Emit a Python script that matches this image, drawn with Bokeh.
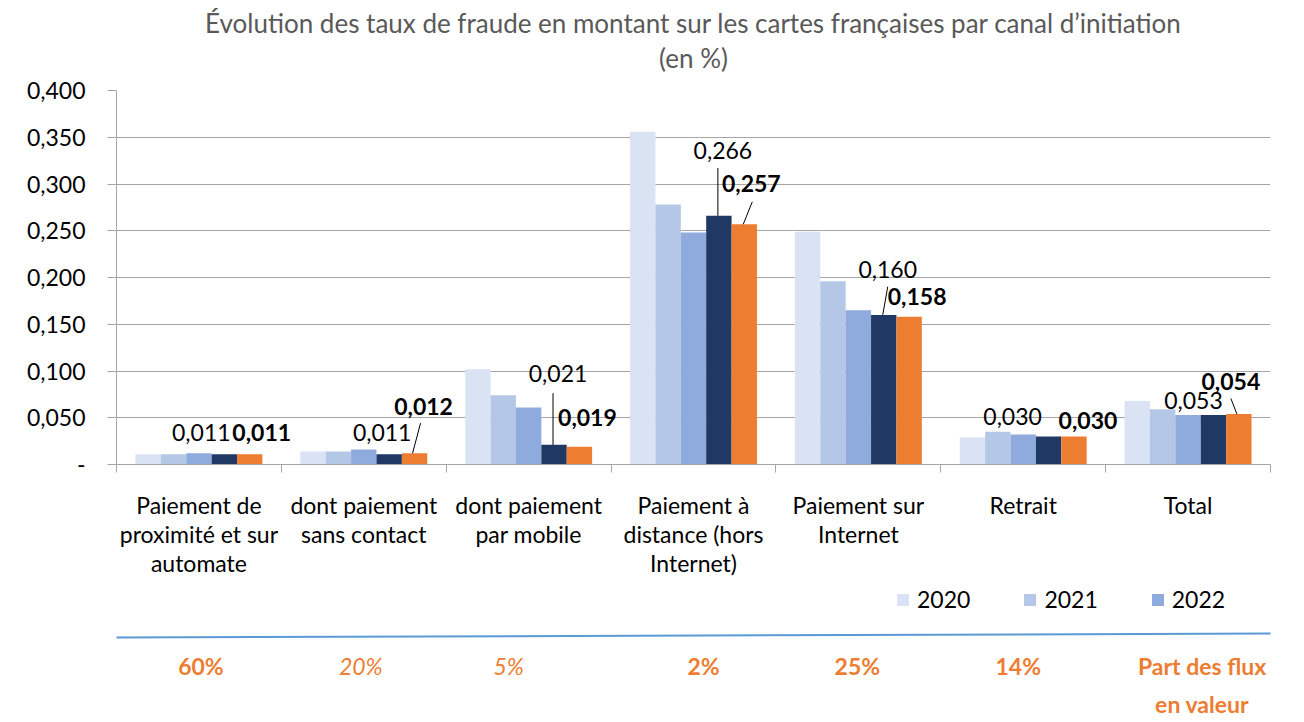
import numpy as np
from bokeh.plotting import figure
from bokeh.models import (Range1d, FixedTicker, ColumnDataSource, Legend, LegendItem)
from bokeh.layouts import column
from bokeh.core.properties import value
from bokeh.embed import file_html
from bokeh.resources import INLINE

# ---------------- data ----------------
categories = ["Paiement de\nproximité et sur\nautomate", "dont paiement\nsans contact",
              "dont paiement\npar mobile", "Paiement à\ndistance (hors\nInternet)",
              "Paiement sur\nInternet", "Retrait", "Total"]
legend_years = ["2020", "2021", "2022"]
v2020 = [0.011, 0.014, 0.102, 0.356, 0.249, 0.029, 0.068]
v2021 = [0.011, 0.014, 0.074, 0.278, 0.196, 0.035, 0.059]
v2022 = [0.012, 0.016, 0.061, 0.248, 0.165, 0.032, 0.053]
v_serie4 = [0.011, 0.011, 0.021, 0.266, 0.160, 0.030, 0.053]
v_serie5 = [0.011, 0.012, 0.019, 0.257, 0.158, 0.030, 0.054]
shares = ["60%", "20%", "5%", "2%", "25%", "14%", "Part des flux\nen valeur"]
y_ticks = [0.0, 0.05, 0.1, 0.15, 0.2, 0.25, 0.3, 0.35, 0.4]
y_tick_labels = ["-", "0,050", "0,100", "0,150", "0,200", "0,250", "0,300", "0,350", "0,400"]
title_lines = ["Évolution des taux de fraude en montant sur les cartes françaises par canal d’initiation",
               "(en %)"]

# ---------------- layout / style ----------------
FONT = "Lato"
FS = "23px"
TITLE_FS = "26px"
W = 1300
H0, H1, H2 = 75, 505, 138          # title strip, chart, bottom strip
LEFT, RIGHT = 116, 30
TOP1, FRAME_H = 90 - H0, 384
BOTTOM1 = H1 - TOP1 - FRAME_H
PX_X = (W - LEFT - RIGHT) / 7.0
PX_Y = FRAME_H / 0.4
colors = ["#DAE3F3", "#B4C7E7", "#8FAADC", "#203864", "#ED7D31"]
bar_w = 0.154
offsets = [-2 * bar_w, -bar_w, 0.0, bar_w, 2 * bar_w]
ncat = len(categories)
centers = np.arange(ncat) + 0.5

# label offsets in px (dx right, dy down) from bar top-centre
navy_dx = [-23, -7, 4, 4, 4, -36, -20]
navy_dy = [-22, -22, -73, -67, -47, -20, -15]
orange_dx = [12, 9, 8, 7, 8, 14, -8]
orange_dy = [-22, -48, -30, -42, -21, -16, -33]
# leader lines: (series, group, dx0, dy0, dx1, dy1) in px
leaders = [(4, 1, -2, 0, 6, -31), (3, 2, -1, 0, -1, -53), (3, 3, -1, 0, -1, -49),
           (4, 3, -1, 0, 8, -23), (3, 4, -1, 0, 4, -29), (4, 6, -2, 0, -8, -16)]

# ---------------- title strip ----------------
p0 = figure(width=W, height=H0, output_backend="svg", toolbar_location=None,
            x_range=Range1d(0, ncat), y_range=Range1d(0, H0),
            x_axis_type=None, y_axis_type=None, min_border_left=LEFT, min_border_right=RIGHT,
            min_border_top=0, min_border_bottom=0, outline_line_color=None)
p0.text(x=[ncat / 2] * 2, y=[H0 - 22, H0 - 57], text=title_lines, text_align="center",
        text_baseline="middle", text_font=value(FONT), text_font_size=TITLE_FS,
        text_color="#595959")

# ---------------- chart ----------------
p = figure(width=W, height=H1, output_backend="svg", toolbar_location=None,
           x_range=Range1d(0, ncat), y_range=Range1d(0, 0.4),
           min_border_left=LEFT, min_border_right=RIGHT, min_border_top=TOP1,
           min_border_bottom=BOTTOM1, outline_line_color=None)

series = [v2020, v2021, v2022, v_serie4, v_serie5]
for k, vals in enumerate(series):
    src = ColumnDataSource(dict(x=centers + offsets[k], top=vals))
    p.vbar(x="x", top="top", bottom=0, width=bar_w, source=src,
           fill_color=colors[k], line_color=None)

def fmt(v):
    return f"{v:.3f}".replace(".", ",")

nx = centers + offsets[3] + np.array(navy_dx) / PX_X
ny = np.array(v_serie4) - np.array(navy_dy) / PX_Y
p.text(x=nx, y=ny, text=[fmt(v) for v in v_serie4], text_align="center",
       text_baseline="middle", text_font=value(FONT), text_font_size=FS, text_color="#000000")
ox = centers + offsets[4] + np.array(orange_dx) / PX_X
oy = np.array(v_serie5) - np.array(orange_dy) / PX_Y
p.text(x=ox, y=oy, text=[fmt(v) for v in v_serie5], text_align="center",
       text_baseline="middle", text_font=value(FONT), text_font_size=FS,
       text_font_style="bold", text_color="#000000")

x0s, y0s, x1s, y1s = [], [], [], []
for s, g, dx0, dy0, dx1, dy1 in leaders:
    bx = centers[g] + offsets[s]
    by = series[s][g]
    x0s.append(bx + dx0 / PX_X); y0s.append(by - dy0 / PX_Y)
    x1s.append(bx + dx1 / PX_X); y1s.append(by - dy1 / PX_Y)
p.segment(x0=x0s, y0=y0s, x1=x1s, y1=y1s, line_color="#000000", line_width=1)

p.xgrid.visible = False
p.ygrid.grid_line_color = "#A6A6A6"
p.ygrid.ticker = FixedTicker(ticks=y_ticks)
p.yaxis.ticker = FixedTicker(ticks=y_ticks)
p.yaxis.major_label_overrides = {t: l for t, l in zip(y_ticks, y_tick_labels)}
p.yaxis.major_tick_out = 9
p.yaxis.major_tick_in = 0
p.yaxis.minor_tick_line_color = None
p.yaxis.major_label_standoff = 22
p.yaxis.axis_line_color = "#A6A6A6"
p.yaxis.major_tick_line_color = "#A6A6A6"

p.xaxis.ticker = FixedTicker(ticks=list(centers), minor_ticks=list(range(ncat + 1)))
p.xaxis.major_label_overrides = {float(c): lab for c, lab in zip(centers, categories)}
p.xaxis.major_tick_line_color = None
p.xaxis.major_tick_out = 0
p.xaxis.major_tick_in = 0
p.xaxis.minor_tick_out = 8
p.xaxis.minor_tick_in = 0
p.xaxis.minor_tick_line_color = "#A6A6A6"
p.xaxis.axis_line_color = "#A6A6A6"
p.xaxis.major_label_standoff = 18
for ax in (p.xaxis, p.yaxis):
    ax.major_label_text_font = FONT
    ax.major_label_text_font_size = FS
    ax.major_label_text_color = "#000000"
p.xaxis.major_label_text_line_height = 1.05

# ---------------- bottom strip: legend, line, shares ----------------
top2 = H0 + H1
p2 = figure(width=W, height=H2, output_backend="svg", toolbar_location=None,
            x_range=Range1d(0, ncat), y_range=Range1d(0, H2),
            x_axis_type=None, y_axis_type=None, min_border_left=LEFT, min_border_right=RIGHT,
            min_border_top=0, min_border_bottom=0, outline_line_color=None)

def sx(px):
    return (px - LEFT) / PX_X
def sy(py):
    return H2 - (py - top2)

# legend-only renderers (no visible mark: a single NaN row)
leg_renderers = []
for k in range(len(legend_years)):
    leg_src = ColumnDataSource(dict(x=np.array([np.nan]), top=np.array([np.nan])))
    leg_renderers.append(p2.vbar(x="x", top="top", width=bar_w, source=leg_src,
                                 fill_color=colors[k], line_color=None))
legend = Legend(items=[LegendItem(label=y, renderers=[leg_renderers[i]]) for i, y in enumerate(legend_years)],
                location=(895 - LEFT, H2 - (613 - top2)), orientation="horizontal",
                glyph_width=15, glyph_height=15, label_standoff=7, spacing=52, padding=0, margin=0,
                border_line_color=None, background_fill_alpha=0, label_text_font=FONT,
                label_text_font_size=FS, label_text_color="#000000")
p2.add_layout(legend)

p2.line(x=[sx(112), sx(1304)], y=[sy(637), sy(633)], line_color="#5B9BD5", line_width=2)
share_dx = [2, -3, -20, 10, -1, -5, 14]
share_style = ["bold", "italic", "italic", "bold", "bold", "bold", "bold"]
src2 = ColumnDataSource(dict(x=centers + np.array(share_dx) / PX_X,
                             y=[sy(651)] * ncat, text=shares, style=share_style))
p2.text(x="x", y="y", text="text", source=src2, text_align="center", text_baseline="top",
        text_font=value(FONT), text_font_size=FS, text_font_style="style",
        text_color="#ED7D31", text_line_height=1.36)

layout = column(p0, p, p2, spacing=0)
open("out.html", "w").write(file_html(layout, INLINE))
